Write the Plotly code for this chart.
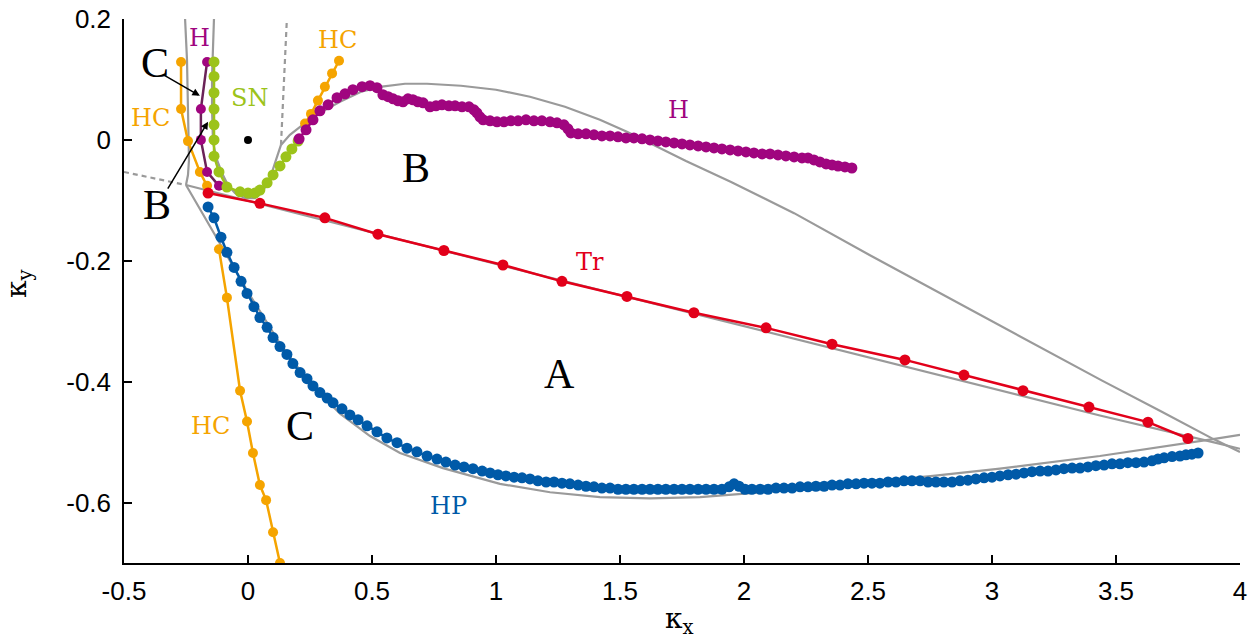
import plotly.graph_objects as go

# ---------------- data ----------------
# Tr (red)
tr_x = [-0.161, 0.048, 0.310, 0.524, 0.790, 1.028, 1.266, 1.528, 1.798, 2.089, 2.355, 2.649, 2.887, 3.125, 3.391, 3.629, 3.790]
tr_y = [-0.088, -0.105, -0.129, -0.156, -0.183, -0.207, -0.234, -0.259, -0.286, -0.311, -0.338, -0.364, -0.389, -0.415, -0.442, -0.467, -0.494]

# HP (blue)
hp_x = [-0.161, -0.137, -0.109, -0.085, -0.056, -0.028, -0.004, 0.024, 0.048, 0.077, 0.101, 0.129, 0.157, 0.181, 0.210,
        0.238, 0.262, 0.290, 0.319, 0.343, 0.379, 0.411, 0.444, 0.480, 0.520, 0.560, 0.601, 0.641, 0.681, 0.722, 0.762,
        0.798, 0.835, 0.871, 0.907, 0.944, 0.976, 1.008, 1.040, 1.073, 1.105, 1.137, 1.169, 1.202, 1.234, 1.266, 1.298,
        1.331, 1.363, 1.395, 1.427, 1.460, 1.492, 1.524, 1.556, 1.589, 1.621, 1.653, 1.685, 1.718, 1.750, 1.782, 1.815,
        1.847, 1.879, 1.911, 1.940, 1.960, 1.980, 2.004, 2.032, 2.065, 2.097, 2.129, 2.161, 2.194, 2.226, 2.258, 2.290,
        2.323, 2.355, 2.387, 2.419, 2.452, 2.484, 2.516, 2.548, 2.581, 2.613, 2.645, 2.677, 2.710, 2.742, 2.774, 2.806,
        2.839, 2.871, 2.903, 2.935, 2.968, 3.000, 3.032, 3.065, 3.097, 3.129, 3.161, 3.194, 3.226, 3.258, 3.290, 3.323,
        3.355, 3.387, 3.419, 3.452, 3.484, 3.516, 3.548, 3.581, 3.613, 3.645, 3.669, 3.694, 3.726, 3.758, 3.782, 3.806, 3.831]
hp_y = [-0.111, -0.129, -0.161, -0.186, -0.211, -0.234, -0.254, -0.276, -0.294, -0.310, -0.327, -0.342, -0.355, -0.370, -0.385,
        -0.395, -0.407, -0.418, -0.427, -0.435, -0.445, -0.455, -0.463, -0.473, -0.483, -0.493, -0.501, -0.510, -0.516, -0.523, -0.528,
        -0.533, -0.538, -0.541, -0.544, -0.548, -0.551, -0.554, -0.556, -0.558, -0.559, -0.561, -0.564, -0.566, -0.566, -0.568, -0.569,
        -0.571, -0.573, -0.574, -0.576, -0.576, -0.578, -0.578, -0.578, -0.578, -0.578, -0.578, -0.578, -0.578, -0.578, -0.578, -0.578,
        -0.578, -0.578, -0.578, -0.574, -0.569, -0.573, -0.578, -0.578, -0.578, -0.578, -0.576, -0.576, -0.576, -0.574, -0.574, -0.573,
        -0.573, -0.571, -0.571, -0.569, -0.569, -0.568, -0.568, -0.568, -0.566, -0.566, -0.564, -0.564, -0.564, -0.566, -0.566, -0.566,
        -0.566, -0.564, -0.563, -0.561, -0.559, -0.558, -0.556, -0.554, -0.553, -0.551, -0.549, -0.548, -0.548, -0.546, -0.544, -0.543,
        -0.543, -0.541, -0.539, -0.538, -0.536, -0.536, -0.534, -0.534, -0.533, -0.531, -0.528, -0.526, -0.524, -0.523, -0.521, -0.520, -0.518]

# H (purple, large branch)
h_x = [0.206, 0.234, 0.262, 0.290, 0.323, 0.359, 0.391, 0.423, 0.460, 0.492, 0.520, 0.544, 0.565, 0.585, 0.605, 0.625, 0.645,
       0.665, 0.685, 0.706, 0.734, 0.758, 0.782, 0.810, 0.835, 0.863, 0.891, 0.911, 0.923, 0.935, 0.948, 0.976, 1.004, 1.032,
       1.060, 1.089, 1.121, 1.153, 1.185, 1.218, 1.246, 1.274, 1.290, 1.302, 1.331, 1.363, 1.395, 1.427, 1.460, 1.492, 1.524,
       1.556, 1.589, 1.621, 1.653, 1.685, 1.718, 1.750, 1.782, 1.815, 1.847, 1.879, 1.911, 1.944, 1.976, 2.008, 2.040, 2.073,
       2.105, 2.137, 2.169, 2.202, 2.234, 2.258, 2.282, 2.306, 2.331, 2.355, 2.379, 2.407, 2.435]
h_y = [0.0017, 0.0166, 0.0332, 0.0481, 0.0581, 0.0697, 0.0763, 0.0830, 0.0880, 0.0896, 0.0863, 0.0747, 0.0714, 0.0680, 0.0647,
       0.0631, 0.0680, 0.0664, 0.0631, 0.0614, 0.0548, 0.0564, 0.0581, 0.0564, 0.0564, 0.0548, 0.0548, 0.0498, 0.0448, 0.0382,
       0.0332, 0.0315, 0.0299, 0.0299, 0.0315, 0.0315, 0.0332, 0.0315, 0.0315, 0.0299, 0.0282, 0.0249, 0.0183, 0.0116, 0.0100,
       0.0100, 0.0083, 0.0066, 0.0066, 0.0050, 0.0033, 0.0033, 0.0017, 0.0, -0.0017, -0.0033, -0.0050, -0.0066, -0.0083, -0.0100,
       -0.0116, -0.0133, -0.0149, -0.0166, -0.0183, -0.0199, -0.0216, -0.0232, -0.0232, -0.0249, -0.0266, -0.0282, -0.0299,
       -0.0299, -0.0332, -0.0365, -0.0398, -0.0415, -0.0432, -0.0448, -0.0465]

# H (purple, small left branch)
h2_x = [-0.165, -0.190, -0.190, -0.165, -0.117]
h2_y = [0.129, 0.051, 0.0, -0.053, -0.076]

# SN (green)
sn_x = [-0.137, -0.137, -0.137, -0.137, -0.137, -0.137, -0.137, -0.117, -0.085, -0.032, 0.0, 0.028, 0.048, 0.077, 0.101,
        0.129, 0.153, 0.177, 0.202]
sn_y = [0.129, 0.105, 0.078, 0.051, 0.025, 0.0, -0.027, -0.053, -0.078, -0.086, -0.088, -0.088, -0.083, -0.071, -0.058,
        -0.043, -0.028, -0.015, -0.002]

# HC (orange) three branches
hc1_x = [-0.270, -0.270, -0.242, -0.194, -0.165]
hc1_y = [0.129, 0.051, -0.002, -0.053, -0.076]
hc2_x = [-0.117, -0.085, -0.032, -0.004, 0.020, 0.048, 0.073, 0.101, 0.129]
hc2_y = [-0.181, -0.261, -0.415, -0.466, -0.518, -0.571, -0.596, -0.649, -0.700]
hc3_x = [0.367, 0.339, 0.310, 0.282, 0.254, 0.230]
hc3_y = [0.131, 0.110, 0.088, 0.065, 0.043, 0.027]

# theoretical (grey) curves
g_left_x = [-0.254, -0.246, -0.242, -0.238, -0.242, -0.250]
g_left_y = [0.2025, 0.1328, 0.0498, -0.0332, -0.0581, -0.0747]
g_dash_left_x = [-0.5, -0.25]
g_dash_left_y = [-0.0531, -0.0747]
g_tr_x = [-0.25, 0.210, 1.016, 1.823, 2.629, 3.435, 3.891, 4.0]
g_tr_y = [-0.0747, -0.123, -0.207, -0.290, -0.373, -0.456, -0.500, -0.511]
g_hp_x = [-0.250, -0.133, 0.008, 0.129, 0.250, 0.371, 0.492, 0.613, 0.786, 1.016, 1.218, 1.419, 1.621, 1.823, 1.992,
          2.226, 2.427, 2.629, 2.762, 3.032, 3.435, 3.891, 4.0]
g_hp_y = [-0.0747, -0.158, -0.257, -0.337, -0.403, -0.453, -0.490, -0.518, -0.543, -0.569, -0.583, -0.591, -0.593, -0.591,
          -0.586, -0.578, -0.569, -0.561, -0.556, -0.544, -0.523, -0.495, -0.488]
g_sn_x = [-0.137, -0.141, -0.145, -0.145, -0.141, -0.125, -0.105, -0.081, -0.052, -0.012, 0.028, 0.056, 0.089, 0.113, 0.133]
g_sn_y = [0.2025, 0.161, 0.1046, 0.0498, -0.005, -0.0332, -0.0548, -0.0747, -0.088, -0.0963, -0.0963, -0.088, -0.0631,
          -0.0332, -0.0083]
g_dash_top_x = [0.133, 0.145, 0.157]
g_dash_top_y = [-0.0083, 0.0913, 0.2025]
g_h_x = [0.133, 0.169, 0.210, 0.290, 0.371, 0.456, 0.540, 0.633, 0.722, 0.859, 1.0, 1.137, 1.278, 1.419, 1.528, 1.625,
         1.766, 1.948, 2.202, 2.508, 2.823, 3.133, 3.444, 3.677, 3.891, 4.0]
g_h_y = [-0.0083, 0.0083, 0.0216, 0.0448, 0.0631, 0.0797, 0.0880, 0.0929, 0.0929, 0.0896, 0.0830, 0.0714, 0.0548, 0.0332,
         0.0133, -0.0066, -0.0349, -0.0697, -0.1212, -0.1909, -0.2606, -0.3286, -0.3983, -0.4481, -0.4946, -0.5162]

origin_x = [0.0]
origin_y = [0.0]

x_ticks = [-0.5, 0, 0.5, 1, 1.5, 2, 2.5, 3, 3.5, 4]
x_ticktext = ["-0.5", "0", "0.5", "1", "1.5", "2", "2.5", "3", "3.5", "4"]
y_ticks = [-0.6, -0.4, -0.2, 0, 0.2]
y_ticktext = ["-0.6", "-0.4", "-0.2", "0", "0.2"]

# ---------------- styles ----------------
GREY = "#9a9a9a"
RED = "#e2001a"
BLUE = "#005aa8"
PURPLE = "#a0057f"
DPURPLE = "#6b2358"
ORANGE = "#f5a400"
GREEN = "#9cc31a"

fig = go.Figure()

def grey(x, y, dash=None):
    fig.add_trace(go.Scatter(x=x, y=y, mode="lines", line=dict(color=GREY, width=2.2, dash=dash),
                             hoverinfo="skip", showlegend=False))

grey(g_dash_left_x, g_dash_left_y, dash="5px,4px")
grey(g_dash_top_x, g_dash_top_y, dash="5px,4px")
grey(g_left_x, g_left_y)
grey(g_tr_x, g_tr_y)
grey(g_hp_x, g_hp_y)
grey(g_sn_x, g_sn_y)
grey(g_h_x, g_h_y)

def series(x, y, color, msize, lcolor=None, lwidth=2.5):
    fig.add_trace(go.Scatter(x=x, y=y, mode="lines+markers",
                             line=dict(color=lcolor or color, width=lwidth),
                             marker=dict(color=color, size=msize, line=dict(width=0)),
                             showlegend=False))

series(hc2_x, hc2_y, ORANGE, 10)
series(hp_x, hp_y, BLUE, 11)
series(hc1_x, hc1_y, ORANGE, 10)
series(h2_x, h2_y, PURPLE, 10, lcolor=DPURPLE)
series(sn_x, sn_y, GREEN, 11)
series(hc3_x, hc3_y, ORANGE, 10)
series(h_x, h_y, PURPLE, 11)
series(tr_x, tr_y, RED, 11)

fig.add_trace(go.Scatter(x=origin_x, y=origin_y, mode="markers",
                         marker=dict(color="black", size=8), showlegend=False))

# ---------------- annotations ----------------
big = dict(family="Liberation Serif, serif", size=42, color="black")
def lab(x, y, t, color, size=24):
    fig.add_annotation(x=x, y=y, text=t, showarrow=False, xref="x", yref="y",
                       font=dict(family="DejaVu Serif, serif", size=size, color=color))

def biglab(x, y, t):
    fig.add_annotation(x=x, y=y, text=t, showarrow=False, xref="x", yref="y", font=big)

biglab(-0.375, 0.128, "C")
biglab(-0.367, -0.108, "B")
biglab(0.677, -0.046, "B")
biglab(1.258, -0.387, "A")
biglab(0.210, -0.473, "C")

lab(-0.194, 0.169, "H", PURPLE)
lab(0.359, 0.166, "HC", ORANGE)
lab(-0.395, 0.0365, "HC", ORANGE)
lab(0.008, 0.0697, "SN", GREEN)
lab(1.734, 0.0498, "H", PURPLE)
lab(1.379, -0.2025, "Tr", RED)
lab(-0.153, -0.473, "HC", ORANGE)
lab(0.810, -0.606, "HP", BLUE)

# arrows
fig.add_annotation(x=-0.194, y=0.073, ax=-0.343, ay=0.108, xref="x", yref="y", axref="x", ayref="y",
                   text="", showarrow=True, arrowhead=2, arrowsize=1, arrowwidth=1.5, arrowcolor="black")
fig.add_annotation(x=-0.161, y=0.030, ax=-0.327, ay=-0.083, xref="x", yref="y", axref="x", ayref="y",
                   text="", showarrow=True, arrowhead=2, arrowsize=1, arrowwidth=1.5, arrowcolor="black")

# axis titles
fig.add_annotation(x=0.498, y=-0.105, xref="paper", yref="paper", text="κ<sub>x</sub>", showarrow=False,
                   xanchor="center", yanchor="middle",
                   font=dict(family="DejaVu Serif, serif", size=28, color="black"))
fig.add_annotation(x=-0.094, y=0.515, xref="paper", yref="paper", text="κ<sub>y</sub>", showarrow=False,
                   xanchor="center", yanchor="middle", textangle=-90,
                   font=dict(family="DejaVu Serif, serif", size=28, color="black"))

axis_common = dict(showline=True, linecolor="black", linewidth=1.5, ticks="inside", ticklen=8,
                   tickwidth=1.5, tickcolor="black", showgrid=False, zeroline=False, mirror=False,
                   automargin=False,
                   tickfont=dict(family="Liberation Sans, Arial, sans-serif", size=26, color="black"))

fig.update_layout(
    width=1256, height=644,
    margin=dict(l=124, r=16, t=19, b=81),
    plot_bgcolor="white", paper_bgcolor="white",
    xaxis=dict(range=[-0.5, 4], tickvals=x_ticks, ticktext=x_ticktext, ticklabelstandoff=4, **axis_common),
    yaxis=dict(range=[-0.7, 0.2], tickvals=y_ticks, ticktext=y_ticktext, ticklabelstandoff=6, **axis_common),
)

fig.write_html("out.html")
